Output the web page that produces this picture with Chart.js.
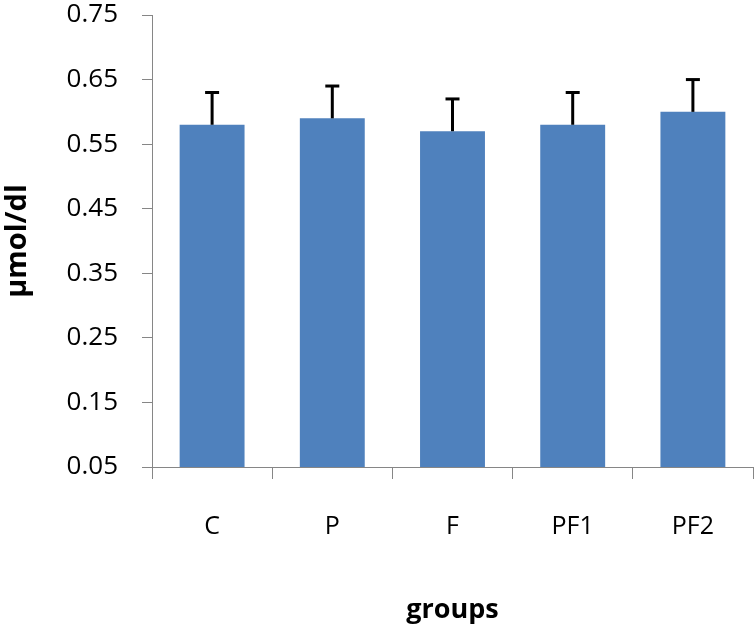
<!DOCTYPE html>
<html>
<head>
<meta charset="utf-8">
<script src="https://cdn.jsdelivr.net/npm/chart.js@4/dist/chart.umd.min.js"></script>
<style>
  html, body { margin: 0; padding: 0; background: #ffffff; }
  #wrap { width: 754px; height: 627px; position: relative; }
</style>
</head>
<body>
<div id="wrap"><canvas id="c" width="754" height="627"></canvas></div>
<script>
const categories = ["C", "P", "F", "PF1", "PF2"];
const means = [0.58, 0.59, 0.57, 0.58, 0.60];
const errors = [0.05, 0.05, 0.05, 0.05, 0.05];
const yTicks = [0.05, 0.15, 0.25, 0.35, 0.45, 0.55, 0.65, 0.75];
const yLabel = "µmol/dl";
const xLabel = "groups";

const FONT = "'Open Sans', 'DejaVu Sans', sans-serif";
const AXIS_GRAY = "#868686";

const errorBarPlugin = {
  id: "errorBars",
  afterDatasetsDraw(chart) {
    const ctx = chart.ctx;
    const meta = chart.getDatasetMeta(0);
    const yScale = chart.scales.y;
    ctx.save();
    ctx.strokeStyle = "#000000";
    ctx.lineWidth = 3;
    meta.data.forEach((bar, i) => {
      const x = bar.x;
      const yTop = yScale.getPixelForValue(means[i] + errors[i]);
      const yBase = yScale.getPixelForValue(means[i]);
      ctx.beginPath();
      ctx.moveTo(x, yBase);
      ctx.lineTo(x, yTop);
      ctx.stroke();
      ctx.beginPath();
      ctx.moveTo(x - 7, yTop);
      ctx.lineTo(x + 7, yTop);
      ctx.stroke();
    });
    ctx.restore();
  }
};

new Chart(document.getElementById("c"), {
  type: "bar",
  data: {
    labels: categories,
    datasets: [{
      data: means,
      backgroundColor: "#4F81BD",
      borderWidth: 0,
      categoryPercentage: 1.0,
      barPercentage: 0.54
    }]
  },
  options: {
    responsive: false,
    animation: false,
    devicePixelRatio: 1,
    layout: { padding: { top: 15, right: 1, bottom: 0, left: 0 } },
    plugins: {
      legend: { display: false },
      tooltip: { enabled: false }
    },
    scales: {
      x: {
        grid: {
          drawOnChartArea: false,
          drawTicks: true,
          tickLength: 12,
          color: AXIS_GRAY,
          offset: true
        },
        border: { display: true, color: AXIS_GRAY, width: 1 },
        ticks: {
          color: "#000000",
          font: { family: FONT, size: 25 },
          padding: 33
        },
        title: {
          display: true,
          text: xLabel,
          color: "#000000",
          font: { family: FONT, size: 27, weight: "bold" },
          padding: { top: 0, bottom: 0 }
        },
        afterFit(scale) {
          scale.height = 160;
          scale.paddingLeft = 0;
          scale.paddingRight = 0;
        }
      },
      y: {
        min: 0.05,
        max: 0.75,
        afterBuildTicks(scale) {
          scale.ticks = yTicks.map(v => ({ value: v }));
        },
        grid: {
          drawOnChartArea: false,
          drawTicks: true,
          tickLength: 10,
          color: AXIS_GRAY
        },
        border: { display: true, color: AXIS_GRAY, width: 1 },
        ticks: {
          color: "#000000",
          font: { family: FONT, size: 26 },
          padding: 24,
          callback: (v) => Number(v).toFixed(2)
        },
        title: {
          display: true,
          text: yLabel,
          color: "#000000",
          font: { family: FONT, size: 29, weight: "bold" },
          padding: { top: 0, bottom: 0 }
        },
        afterFit(scale) {
          scale.width = 152;
          scale.paddingTop = 0;
          scale.paddingBottom = 0;
        }
      }
    }
  },
  plugins: [errorBarPlugin]
});
</script>
</body>
</html>
